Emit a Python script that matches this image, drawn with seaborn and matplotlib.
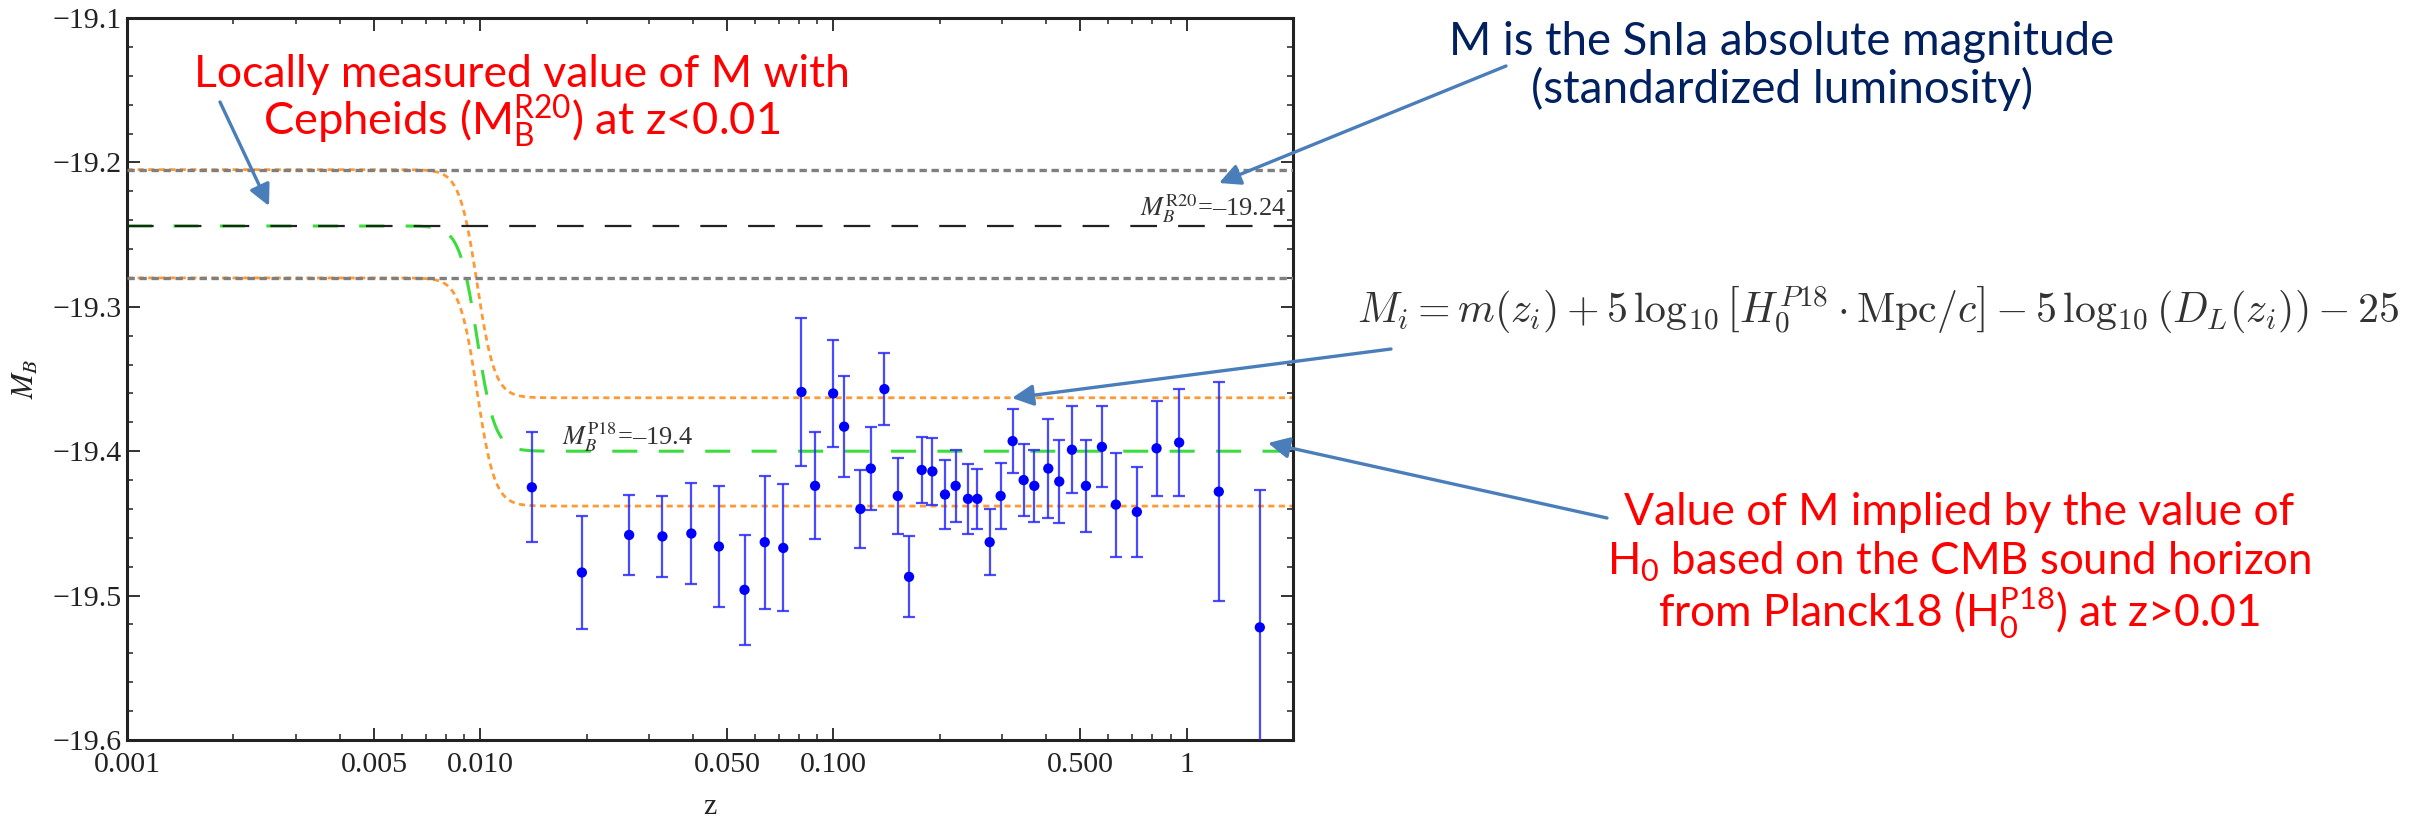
import numpy as np
import pandas as pd
import matplotlib
matplotlib.use("Agg")
import matplotlib.pyplot as plt
import seaborn as sns
from matplotlib.patches import FancyArrowPatch
from matplotlib.ticker import FixedLocator, FixedFormatter, NullFormatter

# ---------------- data ----------------
z_obs = [0.0140, 0.0194, 0.0264, 0.0328, 0.0396, 0.0474, 0.0560, 0.0639, 0.0721, 0.0812,
         0.0887, 0.0998, 0.1072, 0.1192, 0.1276, 0.1394, 0.1521, 0.1637, 0.1778, 0.1906,
         0.2069, 0.2218, 0.2404, 0.2555, 0.2769, 0.2974, 0.3216, 0.3455, 0.3704, 0.4057,
         0.4358, 0.4733, 0.5186, 0.5755, 0.6304, 0.7227, 0.8218, 0.9523, 1.233, 1.611]
M_obs = [-19.425, -19.484, -19.458, -19.459, -19.457, -19.466, -19.496, -19.463, -19.467, -19.359,
         -19.424, -19.360, -19.383, -19.440, -19.412, -19.357, -19.431, -19.487, -19.413, -19.414,
         -19.430, -19.424, -19.433, -19.433, -19.463, -19.431, -19.393, -19.420, -19.424, -19.412,
         -19.421, -19.399, -19.424, -19.397, -19.437, -19.442, -19.398, -19.394, -19.428, -19.522]
M_err = [0.038, 0.039, 0.028, 0.028, 0.035, 0.042, 0.038, 0.046, 0.044, 0.051,
         0.037, 0.037, 0.035, 0.027, 0.029, 0.025, 0.026, 0.028, 0.023, 0.023,
         0.024, 0.025, 0.024, 0.021, 0.023, 0.023, 0.022, 0.025, 0.025, 0.034,
         0.029, 0.030, 0.032, 0.028, 0.036, 0.031, 0.033, 0.037, 0.076, 0.095]

M_R20 = -19.244
M_R20_band = [-19.205, -19.280]
M_P18 = -19.400
M_P18_band = [-19.363, -19.438]
z_transition = 0.0098
transition_width_dex = 0.05

xtick_values = [0.001, 0.005, 0.010, 0.050, 0.100, 0.500, 1.0]
xtick_labels = ["0.001", "0.005", "0.010", "0.050", "0.100", "0.500", "1"]
ytick_values = [-19.6, -19.5, -19.4, -19.3, -19.2, -19.1]
ytick_labels = ["\u221219.6", "\u221219.5", "\u221219.4", "\u221219.3", "\u221219.2", "\u221219.1"]
minor_multipliers = [2, 3, 4, 6, 7, 8, 9]
decades = [0.001, 0.01, 0.1, 1.0]

label_R20 = r"$M_B^{\mathrm{R20}}$" + "=\u201319.24"
label_P18 = r"$M_B^{\mathrm{P18}}$" + "=\u201319.4"

# ---------------- figure ----------------
W, H = 2433, 817
sns.set_theme(style="ticks")
plt.rcParams["font.family"] = ["Liberation Serif", "DejaVu Serif"]
plt.rcParams["axes.unicode_minus"] = True

fig = plt.figure(figsize=(W / 100, H / 100), dpi=100)
fig.patch.set_facecolor("white")
ax = fig.add_axes([127 / W, 1 - 740 / H, (1293 - 127) / W, (740 - 18) / H])
ax.set_facecolor("white")
ax.set_xscale("log")


def fx(px):
    return px / W


def fy(py):
    return 1 - py / H


def smooth_step(z, lo, hi):
    s = 0.5 * (1 + np.tanh((np.log10(z) - np.log10(z_transition)) / transition_width_dex))
    return lo + (hi - lo) * s


zgrid = np.logspace(-3, np.log10(2.0), 800)

orange = "#FF9933"
for lo, hi in zip(M_R20_band, M_P18_band):
    ax.plot(zgrid, smooth_step(zgrid, lo, hi), color=orange, lw=2.0,
            linestyle=(0, (2.2, 1.6)), zorder=2)
    ax.axhline(lo, color="#7f7f7f", lw=2.4, linestyle=(0, (2.2, 1.4)), zorder=3)

ax.plot(zgrid, smooth_step(zgrid, M_R20, M_P18), color="#3ddc3d", lw=2.2,
        linestyle=(0, (8.2, 7.0)), zorder=2)
ax.axhline(M_R20, color="#222222", lw=1.6, linestyle=(0, (12, 9.5)), zorder=3)

df = pd.DataFrame({"z": z_obs, "M": M_obs, "err": M_err})
ax.errorbar(df["z"], df["M"], yerr=df["err"], fmt="none", ecolor="#2a2aff",
            elinewidth=1.6, capsize=4, capthick=1.6, alpha=0.85, zorder=4)
sns.scatterplot(data=df, x="z", y="M", ax=ax, color="#0000ff", s=55,
                edgecolor="none", zorder=5, legend=False)

ax.set_xlim(0.001, 2.0)
ax.set_ylim(-19.6, -19.1)
ax.xaxis.set_major_locator(FixedLocator(xtick_values))
ax.xaxis.set_major_formatter(FixedFormatter(xtick_labels))
ax.xaxis.set_minor_locator(FixedLocator([m * d for d in decades for m in minor_multipliers]))
ax.xaxis.set_minor_formatter(NullFormatter())
ax.yaxis.set_major_locator(FixedLocator(ytick_values))
ax.yaxis.set_major_formatter(FixedFormatter(ytick_labels))
ax.yaxis.set_minor_locator(FixedLocator(list(np.arange(-19.6, -19.09, 0.02))))
ax.set_xlabel("")
ax.set_ylabel("")
ax.tick_params(which="both", direction="in", top=True, right=True, colors="#222222",
               labelsize=21.5, labelcolor="#222222")
ax.tick_params(which="major", length=9, width=1.3)
ax.tick_params(which="minor", length=4.5, width=1.1)
ax.tick_params(axis="x", which="major", pad=9)
ax.tick_params(axis="y", which="major", pad=4)
for sp in ax.spines.values():
    sp.set_linewidth(2.2)
    sp.set_color("#222222")

# in-plot labels
fig.text(fx(1286), fy(216), label_R20, ha="right", va="baseline",
         fontsize=19, color="#333333", math_fontfamily="stix")
fig.text(fx(562), fy(445), label_P18, ha="left", va="baseline",
         fontsize=19, color="#333333", math_fontfamily="stix")

# axis labels
fig.text(fx(710), fy(814), "z", ha="center", va="baseline", fontsize=21.5, color="#222222")
fig.text(fx(26), fy(379), r"$M_B$", ha="center", va="center", rotation=90,
         fontsize=22, color="#222222", math_fontfamily="stix")

# annotations, each line sized to the width it has in the reference
renderer = fig.canvas.get_renderer()


def fit_text(x_px, base_px, s, target_w, ha="center", **kw):
    t = fig.text(fx(x_px), fy(base_px), s, ha=ha, va="baseline", **kw)
    w = t.get_window_extent(renderer).width
    t.set_fontsize(t.get_fontsize() * target_w / w)
    return t


ann_font = ["Lato", "DejaVu Sans"]
red = "#FF0000"
navy = "#002060"
ann_lines = [
    (522, 87, "Locally measured value of M with", 655, red),
    (522, 135, r"Cepheids (M$_\mathregular{B}^\mathregular{R20}$) at z<0.01", 517, red),
    (1782, 55, "M is the SnIa absolute magnitude", 665, navy),
    (1782, 103, "(standardized luminosity)", 501, navy),
    (1959, 525, "Value of M implied by the value of", 669, red),
    (1959, 575, r"H$_\mathregular{0}$ based on the CMB sound horizon", 703, red),
    (1959, 627, r"from Planck18 (H$_\mathregular{0}^\mathregular{P18}$) at z>0.01", 602, red),
]
for x_c, base, s, w_t, col in ann_lines:
    fit_text(x_c, base, s, w_t, fontsize=30, color=col, family=ann_font)

fit_text(1357, 323,
         r"$M_i = m(z_i) + 5\,\log_{10}\left[H_0^{P18}\cdot\mathrm{Mpc}/c\right] - 5\,\log_{10}(D_L(z_i)) - 25$",
         1043, ha="left", fontsize=25, color="#333333", math_fontfamily="cm")

arrow_color = "#4A7EBB"
arrows = [((220, 102), (269, 206)),
          ((1506, 66), (1219, 183)),
          ((1391, 349), (1012, 398)),
          ((1607, 518), (1268, 443))]
for (x0, y0), (x1, y1) in arrows:
    fig.add_artist(FancyArrowPatch((fx(x0), fy(y0)), (fx(x1), fy(y1)),
                                   transform=fig.transFigure, arrowstyle="-|>",
                                   mutation_scale=32, lw=2.4, color=arrow_color,
                                   shrinkA=0, shrinkB=0, zorder=10))

fig.savefig("out.png", dpi=100, facecolor="white")
